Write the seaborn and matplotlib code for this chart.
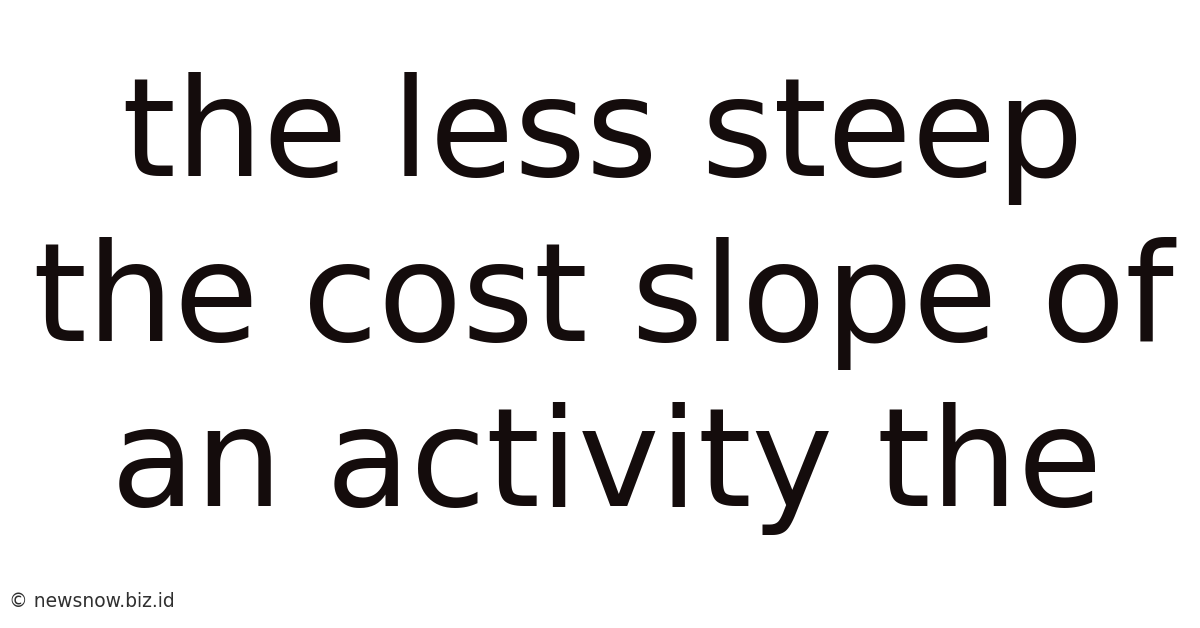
import matplotlib
matplotlib.use("Agg")
import matplotlib.pyplot as plt
import seaborn as sns

# text content of the card
lines = ["the less steep", "the cost slope of", "an activity the"]
watermark = "\u00a9 newsnow.biz.id"

# layout (pixels, from the top-left corner)
line_x = [603, 603, 607]
line_baseline = [176, 341, 506]

sns.set_theme(style="white")
plt.rcParams['font.family'] = ['DejaVu Sans']

W, H = 1200, 628
fig = plt.figure(figsize=(W / 100, H / 100), dpi=100)
fig.patch.set_facecolor("white")
ax = fig.add_axes([0, 0, 1, 1])
ax.set_xlim(0, W)
ax.set_ylim(H, 0)
ax.axis("off")

for txt, x, yb in zip(lines, line_x, line_baseline):
    ax.text(x, yb, txt, fontsize=99, color="#140c0c",
            ha="center", va="baseline")

ax.text(9, 607, watermark, fontsize=13.5, color="#303030",
        ha="left", va="baseline")

fig.savefig("out.png", dpi=100, facecolor="white")
